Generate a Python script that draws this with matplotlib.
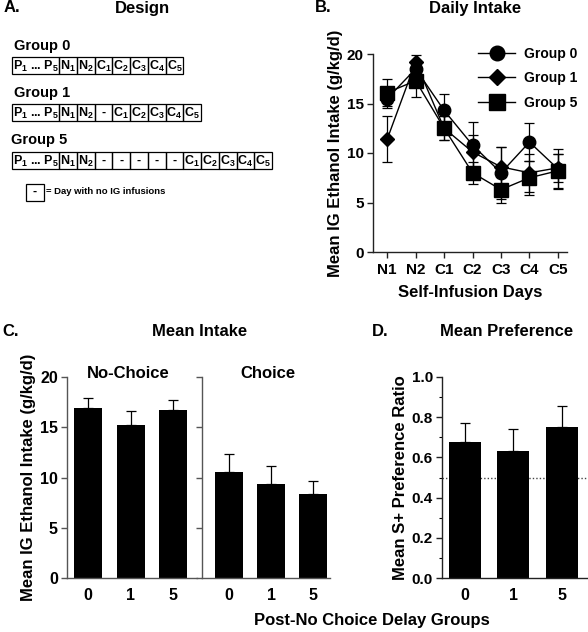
import matplotlib
matplotlib.use("Agg")
import matplotlib.pyplot as plt
from matplotlib.patches import Rectangle
from matplotlib.lines import Line2D
from matplotlib.ticker import MultipleLocator

plt.rcParams['font.family'] = ['Liberation Sans', 'DejaVu Sans']
plt.rcParams['font.weight'] = 'bold'
plt.rcParams['mathtext.fontset'] = 'custom'
plt.rcParams['mathtext.rm'] = 'Liberation Sans:bold'
plt.rcParams['mathtext.bf'] = 'Liberation Sans:bold'
plt.rcParams['mathtext.it'] = 'Liberation Sans:bold'

# ---------------- data ----------------
design_groups = ["Group 0", "Group 1", "Group 5"]
design_delays = [0, 1, 5]
choice_days = ["C1", "C2", "C3", "C4", "C5"]

days = ["N1", "N2", "C1", "C2", "C3", "C4", "C5"]
g0_mean = [15.5, 18.5, 14.3, 10.8, 8.0, 11.1, 8.4]
g0_err = [1.0, 0.9, 1.7, 2.3, 2.6, 1.9, 2.0]
g1_mean = [11.4, 19.2, 12.5, 10.1, 8.6, 8.0, 8.5]
g1_err = [2.3, 0.7, 1.2, 1.7, 2.0, 1.9, 1.4]
g5_mean = [16.1, 17.3, 12.5, 8.0, 6.3, 7.5, 8.2]
g5_err = [1.4, 1.6, 1.2, 1.1, 1.3, 1.7, 1.7]

bar_groups = ["0", "1", "5"]
nochoice_mean = [16.9, 15.2, 16.7]
nochoice_err = [1.0, 1.4, 1.0]
choice_mean = [10.5, 9.4, 8.4]
choice_err = [1.8, 1.7, 1.3]
pref_mean = [0.675, 0.63, 0.75]
pref_err = [0.095, 0.11, 0.105]

W, H = 588, 632
fig = plt.figure(figsize=(W / 100, H / 100), dpi=100)


def fr(x0, y0, x1, y1):
    return [x0 / W, 1 - y1 / H, (x1 - x0) / W, (y1 - y0) / H]


def style_axes(ax, fs=11, spine='#222222'):
    for s in ['top', 'right']:
        ax.spines[s].set_visible(False)
    for s in ['left', 'bottom']:
        ax.spines[s].set_linewidth(1.0)
        ax.spines[s].set_color(spine)
    ax.tick_params(direction='out', length=4, width=1.0, labelsize=fs, color=spine,
                   pad=2.5)
    for lab in ax.get_xticklabels() + ax.get_yticklabels():
        lab.set_fontweight('bold')


# ---------------- Panel A ----------------
axA = fig.add_axes([0, 1 - 300 / H, 290 / W, 300 / H])
axA.set_xlim(0, 290)
axA.set_ylim(300, 0)
axA.axis('off')
x0 = 12
pw = 47
cw = 17.75
row_tops = [57, 104, 152]
label_y = [46, 93, 140]
ch = 17
for gi, (gname, delay) in enumerate(zip(design_groups, design_delays)):
    axA.text(14 if gi < 2 else 11, label_y[gi], gname, fontsize=10.5, fontweight='bold',
             va='center', ha='left')
    top = row_tops[gi]
    cells = ["N_1", "N_2"] + ["-"] * delay + [c[0] + "_" + c[1] for c in choice_days]
    axA.add_patch(Rectangle((x0, top), pw, ch, fill=False, lw=0.9, ec='black'))
    axA.text(x0 + pw / 2, top + ch / 2 + 0.5, r"$P_1$ ... $P_5$", fontsize=9,
             ha='center', va='center', fontweight='bold')
    for ci, c in enumerate(cells):
        cx = x0 + pw + ci * cw
        axA.add_patch(Rectangle((cx, top), cw, ch, fill=False, lw=0.9, ec='black'))
        txt = "-" if c == "-" else "$" + c + "$"
        axA.text(cx + cw / 2, top + ch / 2 + 0.5, txt, fontsize=9, ha='center',
                 va='center', fontweight='bold')
axA.add_patch(Rectangle((26, 184), 18, 17, fill=False, lw=0.9, ec='black'))
axA.text(35, 192, "-", fontsize=9, ha='center', va='center', fontweight='bold')
axA.text(46, 191, "= Day with no IG infusions", fontsize=6.8, ha='left', va='center',
         fontweight='bold')

# ---------------- Panel B ----------------
axB = fig.add_axes(fr(373, 54, 567, 252))
xs = list(range(len(days)))
for mean, err, mk, ms, lab in [(g0_mean, g0_err, 'o', 9, "Group 0"),
                               (g1_mean, g1_err, 'D', 7, "Group 1"),
                               (g5_mean, g5_err, 's', 10, "Group 5")]:
    axB.errorbar(xs, mean, yerr=err, color='black', lw=1.0, elinewidth=0.9,
                 capsize=3.5, capthick=0.9, marker=mk, markersize=ms,
                 markerfacecolor='black', markeredgecolor='black', label=lab)
axB.set_xlim(-0.5, 6.32)
axB.set_ylim(0, 20)
axB.set_yticks([0, 5, 10, 15, 20])
axB.set_xticks(xs)
axB.set_xticklabels(days)
axB.set_xlabel("Self-Infusion Days", fontsize=12, fontweight='bold', labelpad=6)
axB.set_ylabel("Mean IG Ethanol Intake (g/kg/d)", fontsize=12, fontweight='bold',
               labelpad=3)
style_axes(axB, fs=11)
axB.tick_params(axis='x', pad=4)
handles = [Line2D([0], [0], color='black', lw=1.0, marker='o', markersize=10.5),
           Line2D([0], [0], color='black', lw=1.0, marker='D', markersize=8.5),
           Line2D([0], [0], color='black', lw=1.0, marker='s', markersize=12)]
leg = axB.legend(handles, ["Group 0", "Group 1", "Group 5"], loc='upper left',
                 bbox_to_anchor=(0.515, 1.065), frameon=False, fontsize=10,
                 handlelength=2.6, labelspacing=0.75, handletextpad=0.7,
                 borderaxespad=0)
for t in leg.get_texts():
    t.set_fontweight('bold')

# ---------------- Panel C ----------------
bx = [0, 1, 2]
axC1 = fig.add_axes(fr(67, 377, 197, 578))
axC1.bar(bx, nochoice_mean, width=0.66, color='black')
axC1.errorbar(bx, nochoice_mean, yerr=[[0] * 3, nochoice_err], fmt='none',
              ecolor='black', elinewidth=0.9, capsize=3.5, capthick=0.9)
axC1.set_xlim(-0.5, 2.56)
axC1.set_ylim(0, 20)
axC1.set_yticks([0, 5, 10, 15, 20])
axC1.set_xticks(bx)
axC1.set_xticklabels(bar_groups)
axC1.set_ylabel("Mean IG Ethanol Intake (g/kg/d)", fontsize=12, fontweight='bold',
                labelpad=3)
style_axes(axC1, fs=11.5, spine='#555555')
axC1.tick_params(axis='x', length=0, pad=7)

axC2 = fig.add_axes(fr(202, 377, 330, 578))
axC2.bar(bx, choice_mean, width=0.66, color='black')
axC2.errorbar(bx, choice_mean, yerr=[[0] * 3, choice_err], fmt='none',
              ecolor='black', elinewidth=0.9, capsize=3.5, capthick=0.9)
axC2.set_xlim(-0.64, 2.4)
axC2.set_ylim(0, 20)
axC2.set_yticks([0, 5, 10, 15, 20])
axC2.set_yticklabels([])
axC2.set_xticks(bx)
axC2.set_xticklabels(bar_groups)
style_axes(axC2, fs=11.5, spine='#555555')
axC2.tick_params(axis='x', length=0, pad=7)

# ---------------- Panel D ----------------
axD = fig.add_axes(fr(442, 377, 588, 578))
axD.axhline(0.5, color='#444444', lw=1.0, ls=(0, (1, 1.5)), zorder=0)
axD.bar(bx, pref_mean, width=0.66, color='black', zorder=2)
axD.errorbar(bx, pref_mean, yerr=[[0] * 3, pref_err], fmt='none',
             ecolor='black', elinewidth=0.9, capsize=3.5, capthick=0.9, zorder=1)
axD.set_xlim(-0.47, 2.54)
axD.set_ylim(0, 1.0)
axD.set_yticks([0.0, 0.2, 0.4, 0.6, 0.8, 1.0])
axD.set_yticklabels(["0.0", "0.2", "0.4", "0.6", "0.8", "1.0"])
axD.yaxis.set_minor_locator(MultipleLocator(0.1))
axD.set_xticks(bx)
axD.set_xticklabels(bar_groups)
axD.set_ylabel("Mean S+ Preference Ratio", fontsize=12, fontweight='bold', labelpad=3)
style_axes(axD, fs=11)
axD.tick_params(axis='y', which='minor', length=2, width=0.8)
axD.tick_params(axis='x', length=0, pad=7, labelsize=11.5)

# ---------------- titles ----------------
tkw = dict(fontsize=12, fontweight='bold', va='center')
fig.text(4 / W, 1 - 8 / H, "A.", ha='left', **tkw)
fig.text(142 / W, 1 - 8 / H, "Design", ha='center', **tkw)
fig.text(315 / W, 1 - 8 / H, "B.", ha='left', **tkw)
fig.text(475 / W, 1 - 8 / H, "Daily Intake", ha='center', **tkw)
fig.text(2 / W, 1 - 332 / H, "C.", ha='left', **tkw)
fig.text(200 / W, 1 - 332 / H, "Mean Intake", ha='center', **tkw)
fig.text(372 / W, 1 - 332 / H, "D.", ha='left', **tkw)
fig.text(507 / W, 1 - 332 / H, "Mean Preference", ha='center', **tkw)
fig.text(128 / W, 1 - 374 / H, "No-Choice", ha='center', fontsize=12,
         fontweight='bold', va='center')
fig.text(268 / W, 1 - 374 / H, "Choice", ha='center', fontsize=12,
         fontweight='bold', va='center')
fig.text(372 / W, 1 - 621 / H, "Post-No Choice Delay Groups", ha='center',
         fontsize=12, fontweight='bold', va='center')

fig.savefig("out.png", dpi=100)
